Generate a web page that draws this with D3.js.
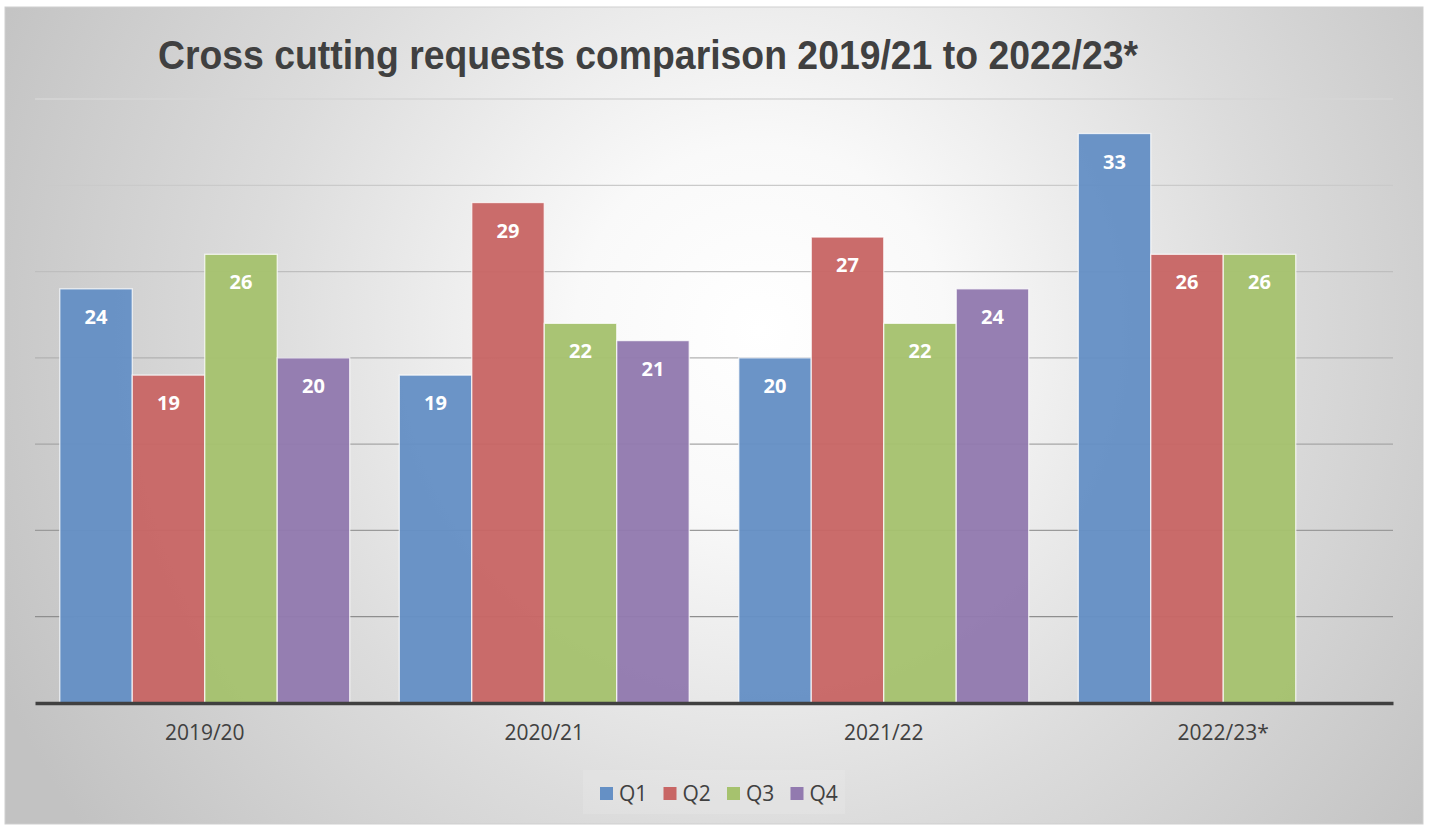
<!DOCTYPE html>
<html>
<head>
<meta charset="utf-8">
<script src="https://cdn.jsdelivr.net/npm/d3@7"></script>
<style>
  body { margin: 0; background: #fff; }
</style>
</head>
<body>
<div class="chart"></div>
<script>
const categories = ['2019/20', '2020/21', '2021/22', '2022/23*'];
const quarters = ['Q1', 'Q2', 'Q3', 'Q4'];
const q1 = [24, 19, 20, 33];
const q2 = [19, 29, 27, 26];
const q3 = [26, 22, 22, 26];
const q4 = [20, 21, 24, null];
const gridTicks = [5, 10, 15, 20, 25, 30, 35];

const seriesValues = [q1, q2, q3, q4];
const colors = d3.scaleOrdinal()
  .domain(quarters)
  .range(['#6590c5', '#c86665', '#a6c26e', '#927aaf']);

const chartWidth = 1429;
const chartHeight = 825;

const margin = { left: 35, right: 36, top: 99, bottom: 122 };

const svg = d3.select('.chart')
  .append('svg')
  .attr('width', chartWidth)
  .attr('height', chartHeight);

// background gradient like the office chart fill
const defs = svg.append('defs');
const grad = defs.append('radialGradient')
  .attr('id', 'bg')
  .attr('gradientUnits', 'userSpaceOnUse')
  .attr('cx', 760)
  .attr('cy', 330)
  .attr('r', 840);
grad.append('stop').attr('offset', '0').attr('stop-color', '#ffffff');
grad.append('stop').attr('offset', '0.22').attr('stop-color', '#f9f9f9');
grad.append('stop').attr('offset', '0.6').attr('stop-color', '#dcdcdc');
grad.append('stop').attr('offset', '1').attr('stop-color', '#c2c2c2');

svg.append('rect')
  .attr('x', 5)
  .attr('y', 7)
  .attr('width', 1418)
  .attr('height', 817)
  .attr('fill', 'url(#bg)')
  .attr('stroke', '#cfcfcf')
  .attr('stroke-width', 1);

svg.append('text')
  .attr('x', 158)
  .attr('y', 69)
  .attr('font-family', 'Liberation Sans, Arial, sans-serif')
  .attr('font-weight', 'bold')
  .attr('font-size', '41px')
  .attr('textLength', 980)
  .attr('lengthAdjust', 'spacingAndGlyphs')
  .attr('fill', '#404040')
  .text('Cross cutting requests comparison 2019/21 to 2022/23*');

const x0 = d3.scaleBand()
  .domain(categories)
  .range([margin.left, chartWidth - margin.right])
  .paddingInner(0.146)
  .paddingOuter(0.073);

const x1 = d3.scaleBand()
  .domain(quarters)
  .range([0, x0.bandwidth()]);

const yScale = d3.scaleLinear()
  .domain([0, 35])
  .range([chartHeight - margin.bottom - 0, margin.top]);

const gridColor = d3.scaleLinear()
  .domain([5, 35])
  .range(['#8e8e8e', '#d6d6d6']);

svg.append('g')
  .selectAll('line')
  .data(gridTicks)
  .enter()
  .append('line')
  .attr('x1', margin.left)
  .attr('x2', chartWidth - margin.right)
  .attr('y1', d => yScale(d))
  .attr('y2', d => yScale(d))
  .attr('stroke', d => gridColor(d))
  .attr('stroke-width', 1.3);

const rows = [];
categories.forEach((c, i) => {
  quarters.forEach((q, j) => {
    if (seriesValues[j][i] != null) rows.push({ cat: c, q: q, value: seriesValues[j][i] });
  });
});

const bars = svg.append('g');
bars.selectAll('rect')
  .data(rows)
  .enter()
  .append('rect')
  .attr('x', d => x0(d.cat) + x1(d.q))
  .attr('y', d => yScale(d.value))
  .attr('width', x1.bandwidth())
  .attr('height', d => yScale(0) - yScale(d.value))
  .attr('fill', d => colors(d.q))
  .attr('fill-opacity', 0.96)
  .attr('stroke', 'rgba(255,255,255,0.75)')
  .attr('stroke-width', 1.3);

bars.selectAll('text')
  .data(rows)
  .enter()
  .append('text')
  .attr('x', d => x0(d.cat) + x1(d.q) + x1.bandwidth() / 2)
  .attr('y', d => yScale(d.value) + 35)
  .attr('text-anchor', 'middle')
  .attr('font-family', 'Open Sans, sans-serif')
  .attr('font-weight', 'bold')
  .attr('font-size', '20px')
  .attr('fill', '#ffffff')
  .text(d => d.value);

const xAxis = d3.axisBottom(x0).tickSize(0).tickPadding(22);
const axisG = svg.append('g')
  .attr('transform', `translate(0, ${yScale(0)})`)
  .call(xAxis);
axisG.select('.domain')
  .attr('stroke', '#404040')
  .attr('stroke-width', 3.5);
axisG.selectAll('text')
  .attr('font-family', 'Open Sans, sans-serif')
  .attr('font-size', '21px')
  .attr('fill', '#404040');

// legend
const legend = svg.append('g');
legend.append('rect')
  .attr('x', 583)
  .attr('y', 770)
  .attr('width', 262)
  .attr('height', 44)
  .attr('fill', 'rgba(255,255,255,0.12)');

const legendItem = legend.selectAll('g')
  .data(quarters)
  .enter()
  .append('g')
  .attr('transform', (d, i) => `translate(${600 + i * 63.5}, 787)`);
legendItem.append('rect')
  .attr('width', 13)
  .attr('height', 13)
  .attr('fill', d => colors(d));
legendItem.append('text')
  .attr('x', 19)
  .attr('y', 14)
  .attr('font-family', 'Open Sans, sans-serif')
  .attr('font-size', '21px')
  .attr('fill', '#404040')
  .text(d => d);
</script>
</body>
</html>
